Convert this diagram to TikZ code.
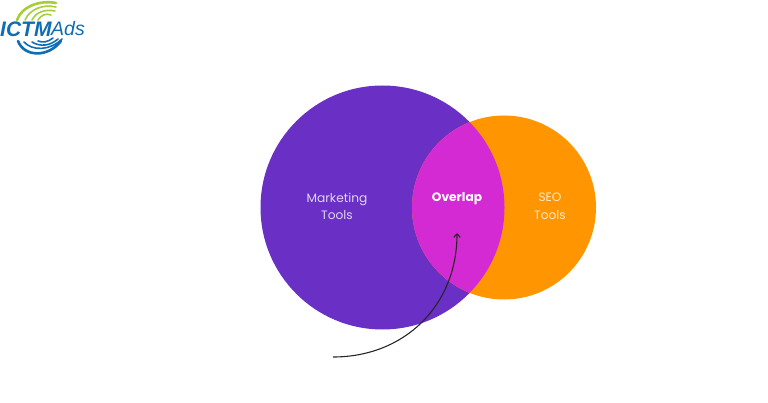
\documentclass[tikz,border=0pt]{standalone}
\usepackage{fontspec}
\setmainfont{Poppins}
\newfontfamily\logofont{Liberation Sans}
\usetikzlibrary{arrows.meta}
\definecolor{toolpurple}{HTML}{6A2FC4}
\definecolor{toolorange}{HTML}{FF9500}
\definecolor{overlappink}{HTML}{D42AD4}
\definecolor{logoblue}{HTML}{0F6DB4}
\definecolor{logogreen}{HTML}{A6CE39}
\tikzset{
  toollabel/.style={align=center,font=\fontsize{12.2}{17.5}\selectfont,text=white!80!toolpurple},
  logoarc/.style={line width=1.6pt,line cap=round}
}

\begin{document}
\begin{tikzpicture}[x=1pt,y=-1pt]
        \useasboundingbox (0,0) rectangle (768,403);
        % two circles and their common part
        \fill[toolpurple] (382.5,207.5) circle(122);
        \fill[toolorange] (504,207.5) circle(92);
        \begin{scope}
          \clip (382.5,207.5) circle(122);
          \fill[overlappink] (504,207.5) circle(92);
        \end{scope}
        \node[toollabel] (marketing) at (337,206.5) {Marketing\\Tools};
        \node[toollabel,text=white!80!toolorange] (seo) at (550,206.5) {SEO\\Tools};
        \node[font=\fontsize{12.2}{15}\selectfont\bfseries,text=white] (overlap) at (457,198.5) {Overlap};
        % arrow into the overlap
        \coordinate (tail) at (333,357);
        \coordinate (head) at (457,233);
        \draw[-{Straight Barb[length=3.5pt,width=6.5pt]},line width=1.1pt,color=black!85] (tail) .. controls (405,357) and (457,305) .. (head);
        % logo
        \draw[logoarc,logogreen,line width=2.6pt] (17,20) .. controls (22,6) and (40,0) .. (56,3);
        \draw[logoarc,logogreen] (25,20) .. controls (30,9) and (43,4) .. (56,7);
        \draw[logoarc,logogreen] (32,20) .. controls (36,12) and (45,9) .. (55,11);
        \draw[logoarc,logogreen] (38,20) .. controls (41,15) and (46,13) .. (51,15);
        \node[font=\logofont\bfseries\itshape\fontsize{21}{21}\selectfont,text=logoblue,inner sep=0pt,anchor=west] (ictm) at (0,29) {ICTM};
        \node[font=\logofont\itshape\fontsize{19.5}{20}\selectfont,text=logoblue,inner sep=0pt,anchor=west] (ads) at (51,29) {Ads};
        \draw[logoarc,logoblue,line width=2.6pt] (18,41) .. controls (24,57) and (48,58) .. (61,41);
        \draw[logoarc,logoblue] (24,42) .. controls (32,51) and (50,51) .. (62,39);
        \draw[logoarc,logoblue] (32,42) .. controls (40,47) and (50,46) .. (58,39);
        \draw[logoarc,logoblue] (38,41) .. controls (43,43) and (48,42) .. (53,38);
      \end{tikzpicture}
\end{document}
